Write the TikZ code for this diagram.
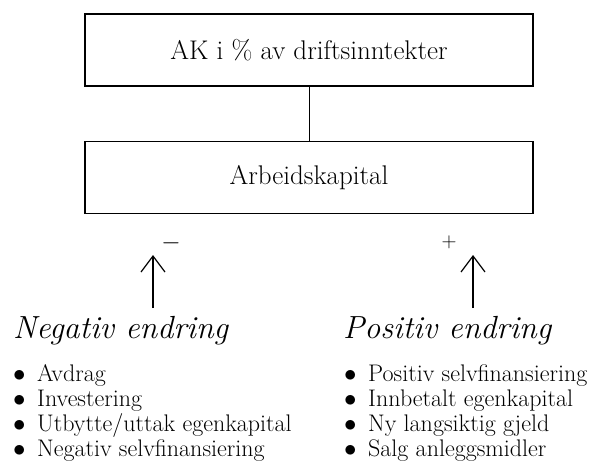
\documentclass[tikz,border=0pt]{standalone}
\usetikzlibrary{arrows.meta}
\begin{document}
\begin{tikzpicture}[x=1pt,y=-1pt,
    box/.style={draw,line width=1.1pt,minimum width=448pt,minimum height=72pt,
      inner sep=0pt,font=\fontsize{27}{30}\selectfont},
    head/.style={anchor=base west,inner sep=0pt,font=\fontsize{32}{36}\selectfont\itshape},
    item/.style={anchor=base west,inner sep=0pt,font=\fontsize{24}{28}\selectfont},
    sign/.style={inner sep=0pt},
    up/.style={-{Straight Barb[length=16pt,width=24pt]},line width=1.2pt}]
  \useasboundingbox (0,0) rectangle (602,463);
  \node[box] (ak) at (309,50) {AK i \% av driftsinntekter};
  \node[box] (arb) at (309,177.5) {Arbeidskapital};
  \draw[line width=0.8pt] (ak) -- (arb);
  % negativ side
  \coordinate (negfoot) at (153,308);
  \coordinate (negtip) at (153,255);
  \draw[up] (negfoot) -- (negtip);
  \node[sign,font=\fontsize{28}{30}\selectfont] (minus) at (171,243) {$-$};
  \node[head] (neg) at (13,338) {Negativ endring};
  \foreach \txt [count=\i] in {Avdrag,Investering,Utbytte/uttak egenkapital,Negativ selvfinansiering}
    \node[item] (neg\i) at (13,{381+25.2*(\i-1)}) {\makebox[24pt][l]{$\bullet$}\txt};
  % positiv side
  \coordinate (posfoot) at (473,308);
  \coordinate (postip) at (473,255);
  \draw[up] (posfoot) -- (postip);
  \node[sign,font=\fontsize{20}{24}\selectfont] (plus) at (449,242) {$+$};
  \node[head] (pos) at (343,338) {Positiv endring};
  \foreach \txt [count=\i] in {Positiv selvfinansiering,Innbetalt egenkapital,Ny langsiktig gjeld,Salg anleggsmidler}
    \node[item] (pos\i) at (344,{381+25.2*(\i-1)}) {\makebox[24pt][l]{$\bullet$}\txt};
\end{tikzpicture}
\end{document}
